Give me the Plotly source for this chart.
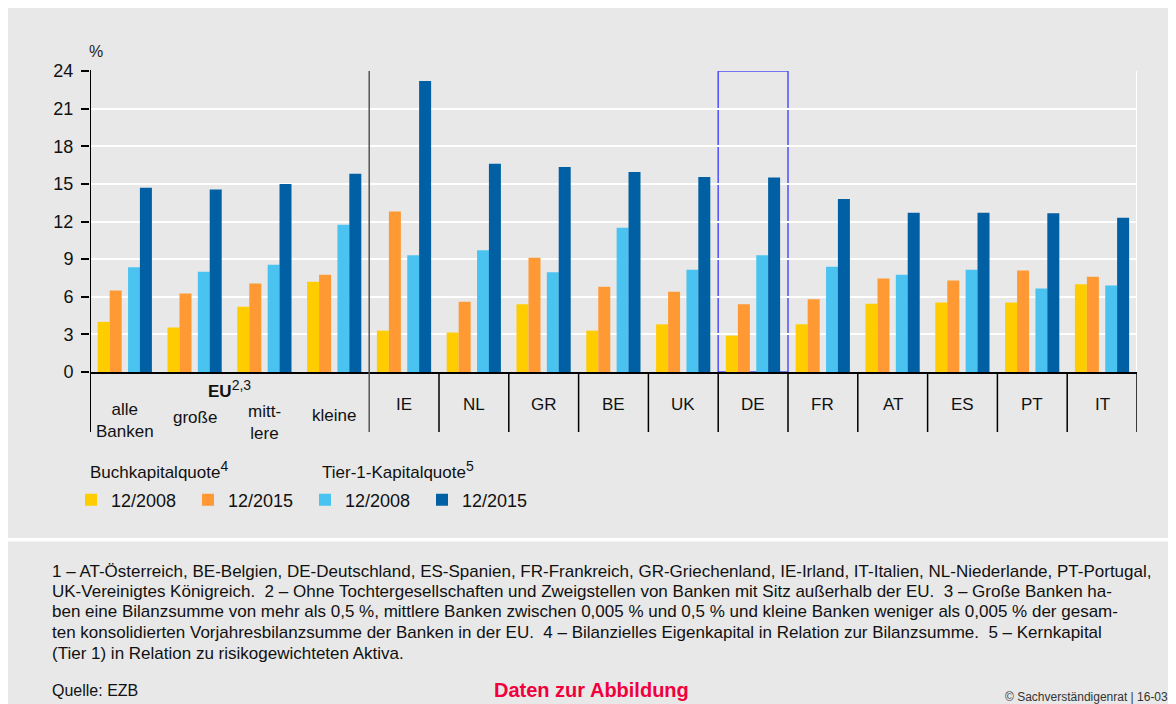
import plotly.graph_objects as go

# categories: EU size classes, then countries
categories = ["alle", "grosse", "mittlere", "kleine", "IE", "NL", "GR", "BE",
              "UK", "DE", "FR", "AT", "ES", "PT", "IT"]
category_labels = ["alle<br>Banken", "große", "mitt-<br>lere", "kleine", "IE", "NL", "GR",
                   "BE", "UK", "DE", "FR", "AT", "ES", "PT", "IT"]

# Buchkapitalquote (%)
buch_2008 = [4.0, 3.55, 5.2, 7.2, 3.3, 3.15, 5.4, 3.3, 3.8, 2.9, 3.8, 5.45, 5.55, 5.55, 7.0]
buch_2015 = [6.5, 6.25, 7.05, 7.75, 12.8, 5.6, 9.1, 6.8, 6.4, 5.4, 5.8, 7.45, 7.3, 8.1, 7.6]
# Tier-1-Kapitalquote (%)
tier1_2008 = [8.35, 8.0, 8.55, 11.75, 9.3, 9.7, 7.95, 11.5, 8.15, 9.3, 8.4, 7.75, 8.15, 6.65, 6.9]
tier1_2015 = [14.7, 14.55, 15.0, 15.8, 23.2, 16.6, 16.35, 15.95, 15.55, 15.5, 13.8, 12.7, 12.7, 12.65, 12.3]

y_ticks = [0, 3, 6, 9, 12, 15, 18, 21, 24]

footnotes = [
    "1 – AT-Österreich, BE-Belgien, DE-Deutschland, ES-Spanien, FR-Frankreich, GR-Griechenland, IE-Irland, IT-Italien, NL-Niederlande, PT-Portugal,",
    "UK-Vereinigtes Königreich.\u00a0 2 – Ohne Tochtergesellschaften und Zweigstellen von Banken mit Sitz außerhalb der EU.\u00a0 3 – Große Banken ha-",
    "ben eine Bilanzsumme von mehr als 0,5 %, mittlere Banken zwischen 0,005 % und 0,5 % und kleine Banken weniger als 0,005 % der gesam-",
    "ten konsolidierten Vorjahresbilanzsumme der Banken in der EU.\u00a0 4 – Bilanzielles Eigenkapital in Relation zur Bilanzsumme.\u00a0 5 – Kernkapital",
    "(Tier 1) in Relation zu risikogewichteten Aktiva.",
]

FONT = "Liberation Sans, Arial, sans-serif"
BG = "#e8e8e8"

W, H = 1168, 696
ML, MR, MT, MB = 82, 39, 63, 332
PW, PH = W - ML - MR, H - MT - MB


def px(x):
    return (x - ML) / PW


def py(y):
    return (H - MB - y) / PH


def sup(s):
    return "<sup><span style='font-size:14px'>" + s + "</span></sup>"


def note(text, x, y, size, xanchor="center", xref="paper", color="#111", **kw):
    return dict(text=text, x=x, y=py(y), xref=xref, yref="paper", xanchor=xanchor,
                yanchor="middle", showarrow=False, font=dict(size=size, color=color), **kw)


series = [
    ("12/2008", buch_2008, "#ffcc00", -0.39),
    ("12/2015", buch_2015, "#ff9933", -0.218),
    ("12/2008", tier1_2008, "#4bc3f0", 0.045),
    ("12/2015", tier1_2015, "#0060a3", 0.215),
]

fig = go.Figure()
for name, vals, color, off in series:
    fig.add_trace(go.Bar(
        x=categories, y=vals, name=name,
        marker=dict(color=color, line=dict(width=0)),
        width=0.172, offset=off,
    ))

shapes = []
# y axis line, extended down into label area
shapes.append(dict(type="line", xref="x", yref="paper", x0=-0.5, x1=-0.5,
                   y0=py(424), y1=1.003, line=dict(color="black", width=2)))
# EU / country separator
shapes.append(dict(type="line", xref="x", yref="paper", x0=3.5, x1=3.5,
                   y0=py(424), y1=1, line=dict(color="#555555", width=1.5)))
# category boundaries below zero
for i in range(5, len(categories) + 1):
    shapes.append(dict(type="line", xref="x", yref="paper", x0=i - 0.5, x1=i - 0.5,
                       y0=py(424), y1=0, line=dict(color="black", width=1.5)))
# right edge of grid
shapes.append(dict(type="line", xref="x", yref="paper", x0=14.5, x1=14.5, y0=0, y1=1,
                   line=dict(color="white", width=2), layer="below"))
# highlight box around DE
shapes.append(dict(type="rect", xref="x", yref="y", x0=8.5, x1=9.5, y0=0, y1=24,
                   line=dict(color="rgba(40,40,255,0.8)", width=1.5), layer="below"))
# white separator between chart panel and footnote panel
shapes.append(dict(type="rect", xref="paper", yref="paper", x0=px(0), x1=px(W),
                   y0=py(533.5), y1=py(530), fillcolor="white", line=dict(width=0)))

ann = [note("%", px(88), 44, 16, color="#222")]
label_y = [412.5, 409, 414, 407] + [396] * 11
for cat, lab, ly in zip(categories, category_labels, label_y):
    ann.append(note(lab, cat, ly, 17, xref="x"))
ann.append(note("<b>EU</b>" + sup("2,3"), 1.5, 381, 17, xref="x"))
ann.append(note("Buchkapitalquote" + sup("4"), px(80), 462, 17, xanchor="left"))
ann.append(note("Tier-1-Kapitalquote" + sup("5"), px(312), 462, 17, xanchor="left"))
for line, ly in zip(footnotes, [563, 583, 603, 624, 645]):
    ann.append(note(line, px(42), ly, 17, xanchor="left"))
ann.append(note("Quelle: EZB", px(42), 682, 16, xanchor="left"))
ann.append(note("<b>Daten zur Abbildung</b>", px(583), 682, 20, color="#f0003c"))
ann.append(note("© Sachverständigenrat | 16-03", px(1162), 689, 12, xanchor="right", color="#333"))

fig.update_layout(
    width=W, height=H,
    margin=dict(l=ML, r=MR, t=MT, b=MB),
    paper_bgcolor=BG, plot_bgcolor=BG,
    font=dict(family=FONT, color="#111"),
    barmode="overlay",
    showlegend=True,
    legend=dict(orientation="h", x=px(63), y=py(492), xanchor="left", yanchor="middle",
                xref="paper", yref="paper", font=dict(size=18), itemwidth=30,
                entrywidth=72, entrywidthmode="pixels", bgcolor="rgba(0,0,0,0)",
                traceorder="normal"),
    xaxis=dict(type="category", categoryorder="array", categoryarray=categories,
               range=[-0.5, 14.5], showticklabels=False, ticks="", showgrid=False,
               showline=True, linecolor="black", linewidth=2, zeroline=False, fixedrange=True),
    yaxis=dict(range=[0, 24], tickvals=y_ticks, ticks="outside", ticklen=8, tickwidth=1.5,
               tickcolor="black", showgrid=True, gridcolor="white", gridwidth=1.5,
               zeroline=False, showline=False, tickfont=dict(size=18, color="#111"),
               ticklabelstandoff=4),
    shapes=shapes,
    annotations=ann,
)

fig.write_html("out.html")
